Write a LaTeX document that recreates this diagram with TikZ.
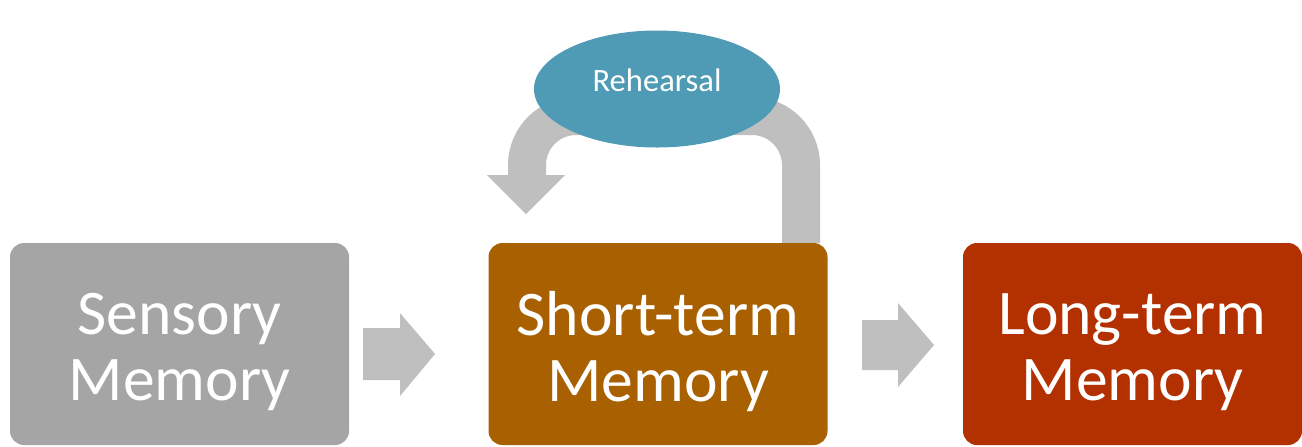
\documentclass[tikz,border=0pt]{standalone}
\usepackage{fontspec}
\setmainfont{Carlito}
\usetikzlibrary{shapes.geometric,calc}
\definecolor{sensgray}{HTML}{A5A5A5}
\definecolor{stmbrown}{HTML}{A86000}
\definecolor{ltmred}{HTML}{B33100}
\definecolor{rehblue}{HTML}{4F9BB5}
\definecolor{arrgray}{HTML}{BFBFBF}
\begin{document}
\begin{tikzpicture}[x=0.5pt,y=-0.5pt,
  membox/.style={rectangle, rounded corners=7pt, minimum width=169.5pt, minimum height=101pt, inner sep=0pt},
  memtext/.style={text=white, align=center, inner sep=0pt, yshift=-4pt, font=\fontsize{31.8pt}{33pt}\selectfont},
  blockarrow/.style={fill=arrgray},
  loopband/.style={draw=arrgray, line width=19pt, rounded corners=24.5pt},
  rehnode/.style={ellipse, fill=rehblue, minimum width=123pt, minimum height=58.5pt, inner sep=0pt, text=white, font=\fontsize{16.3pt}{18pt}\selectfont, text height=12pt, text depth=10pt}]
\useasboundingbox (0,0) rectangle (1302,446);
% rehearsal loop (behind)
\coordinate (loopstart) at (801,243);
\coordinate (loopend) at (527,176);
\draw[loopband] (loopstart) -- (801,116) -- (527,116) -- (loopend);
\fill[arrgray] (487,175) -- (565,175) -- (526,214) -- cycle;
\node[rehnode] (reh) at (657,89) {Rehearsal};
% nodes
\node[membox, fill=sensgray, label={[memtext]center:{Sensory\\Memory}}] (sm) at (179.5,344) {};
\node[membox, fill=stmbrown, label={[memtext]center:{Short-term\\Memory}}] (stm) at (658,344) {};
\node[membox, fill=ltmred, label={[memtext]center:{Long-term\\Memory}}] (ltm) at (1132.5,344) {};
% block arrows
\fill[blockarrow] (363,328) -- (400,328) -- (400,313) -- (435,354) -- (400,396) -- (400,380) -- (363,380) -- cycle;
\fill[blockarrow] (862,320) -- (898,320) -- (898,303) -- (934,345) -- (898,387) -- (898,370) -- (862,370) -- cycle;
\end{tikzpicture}
\end{document}
